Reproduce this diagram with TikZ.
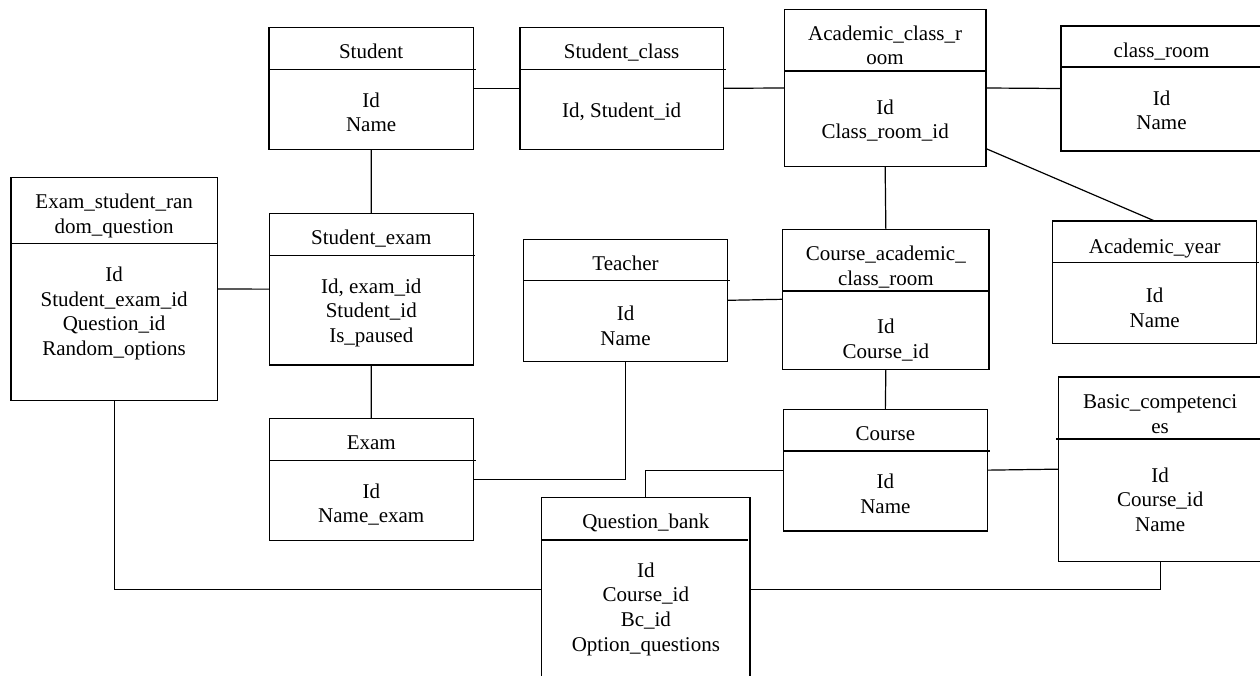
\documentclass[tikz,border=0pt]{standalone}
\usepackage{fontspec}
\setmainfont{Liberation Serif}
\tikzset{
  ebox/.style={draw=black, line width=1.2pt, inner sep=0pt, outer sep=0pt},
  etxt/.style={anchor=north, inner sep=0pt, align=center, text=black,
               font=\fontsize{21}{24.7}\selectfont},
  divline/.style={line width=1.2pt},
  link/.style={line width=1.2pt},
}
\begin{document}
\begin{tikzpicture}[x=1pt,y=-1pt]
\fill[white] (0,0) rectangle (1260,676);
\useasboundingbox (0,0) rectangle (1260,676);
\begin{scope}
\clip (0,0) rectangle (1260,676);
% Student
\node[ebox, minimum width=204.3, minimum height=122] (student) at (371.15,88.3) {};
\draw[divline] (student.west |- 0,69.3) -- (475.5,69.3);
\node[etxt] (student-t) at (371.15,41.4) {\strut Student};
\node[etxt] (student-b) at (371.15,89.7) {\strut Id\\\strut Name};
% Student_class
\node[ebox, minimum width=203.3, minimum height=122] (sclass) at (621.65,88.3) {};
\draw[divline] (sclass.west |- 0,69.3) -- (725.7,69.3);
\node[etxt] (sclass-t) at (621.65,41.4) {\strut Student\_class};
\node[etxt] (sclass-b) at (621.65,99.7) {\strut Id,\ Student\_id};
% Academic_class_room
\node[ebox, minimum width=201.7, minimum height=157.4] (acr) at (885.15,88) {};
\draw[divline] (acr.west |- 0,71) -- (acr.east |- 0,71);
\node[etxt] (acr-t) at (885.15,22.7) {\strut Academic\_class\_r\\\strut oom};
\node[etxt] (acr-b) at (885.15,96.7) {\strut Id\\\strut Class\_room\_id};
% class_room
\node[ebox, minimum width=201, minimum height=125] (croom) at (1161.5,88.5) {};
\draw[divline] (croom.west |- 0,67) -- (croom.east |- 0,67);
\node[etxt] (croom-t) at (1161.5,39.7) {\strut class\_room};
\node[etxt] (croom-b) at (1161.5,87.7) {\strut Id\\\strut Name};
% Exam_student_random_question
\node[ebox, minimum width=206.3, minimum height=223.4] (esrq) at (114.15,289) {};
\draw[divline] (esrq.west |- 0,243.3) -- (esrq.east |- 0,243.3);
\node[etxt] (esrq-t) at (114.15,191.4) {\strut Exam\_student\_ran\\\strut dom\_question};
\node[etxt] (esrq-b) at (114.15,264) {\strut Id\\\strut Student\_exam\_id\\\strut Question\_id\\\strut Random\_options};
% Student_exam
\node[ebox, minimum width=204, minimum height=151.7] (sexam) at (371.3,289.15) {};
\draw[divline] (sexam.west |- 0,255.7) -- (475,255.7);
\node[etxt] (sexam-t) at (371.3,227.4) {\strut Student\_exam};
\node[etxt] (sexam-b) at (371.3,275.7) {\strut Id, exam\_id\\\strut Student\_id\\\strut Is\_paused};
% Teacher
\node[ebox, minimum width=204.4, minimum height=122] (teacher) at (625.5,300.3) {};
\draw[divline] (teacher.west |- 0,280.7) -- (730,280.7);
\node[etxt] (teacher-t) at (625.5,253) {\strut Teacher};
\node[etxt] (teacher-b) at (625.5,303) {\strut Id\\\strut Name};
% Course_academic_class_room
\node[ebox, minimum width=206.3, minimum height=140] (cacr) at (885.85,299.3) {};
\draw[divline] (cacr.west |- 0,291) -- (cacr.east |- 0,291);
\node[etxt] (cacr-t) at (885.85,243) {\strut Course\_academic\_\\\strut class\_room};
\node[etxt] (cacr-b) at (885.85,316.4) {\strut Id\\\strut Course\_id};
% Academic_year
\node[ebox, minimum width=204, minimum height=122.3] (ayear) at (1154.7,282.15) {};
\draw[divline] (ayear.west |- 0,262.3) -- (1259,262.3);
\node[etxt] (ayear-t) at (1154.7,235.7) {\strut Academic\_year};
\node[etxt] (ayear-b) at (1154.7,285.4) {\strut Id\\\strut Name};
% Exam
\node[ebox, minimum width=203.9, minimum height=122] (exam) at (371.25,479.7) {};
\draw[divline] (exam.west |- 0,460.3) -- (475.5,460.3);
\node[etxt] (exam-t) at (371.25,432) {\strut Exam};
\node[etxt] (exam-b) at (371.25,480.7) {\strut Id\\\strut Name\_exam};
% Course
\node[ebox, minimum width=204.3, minimum height=121.7] (course) at (885.35,470.15) {};
\draw[divline] (course.west |- 0,451) -- (989.5,451);
\node[etxt] (course-t) at (885.35,423) {\strut Course};
\node[etxt] (course-b) at (885.35,471.4) {\strut Id\\\strut Name};
% Basic_competencies
\node[ebox, minimum width=203.7, minimum height=184.3] (bc) at (1160.15,469.15) {};
\draw[divline] (1056,439) -- (bc.east |- 0,439);
\node[etxt] (bc-t) at (1160.15,391.4) {\strut Basic\_competenci\\\strut es};
\node[etxt] (bc-b) at (1160.15,464.7) {\strut Id\\\strut Course\_id\\\strut Name};
% Question_bank
\node[ebox, minimum width=208.3, minimum height=184] (qb) at (645.85,589.3) {};
\draw[divline] (qb.west |- 0,540) -- (748,540);
\node[etxt] (qb-t) at (645.85,511.4) {\strut Question\_bank};
\node[etxt] (qb-b) at (645.85,559.7) {\strut Id\\\strut Course\_id\\\strut Bc\_id\\\strut Option\_questions};
% connectors
\draw[link] (student.east) -- (sclass.west);
\draw[link] (sclass.east) -- (acr.west);
\draw[link] (acr.east) -- (croom.west);
\draw[link] (acr.-31.6) -- (ayear.north);
\draw[link] (acr.south) -- (cacr.north);
\draw[link] (student.south) -- (sexam.north);
\draw[link] (sexam.west) -- (esrq.east);
\draw[link] (sexam.south) -- (exam.north);
\draw[link] (teacher.east) -- (cacr.west);
\draw[link] (exam.east) -| (teacher.south);
\draw[link] (cacr.south) -- (course.north);
\draw[link] (course.east) -- (bc.west);
\draw[link] (course.west) -| (qb.north);
\draw[link] (qb.west) -| (esrq.south);
\draw[link] (qb.east) -| (bc.south);
\end{scope}
\end{tikzpicture}
\end{document}
